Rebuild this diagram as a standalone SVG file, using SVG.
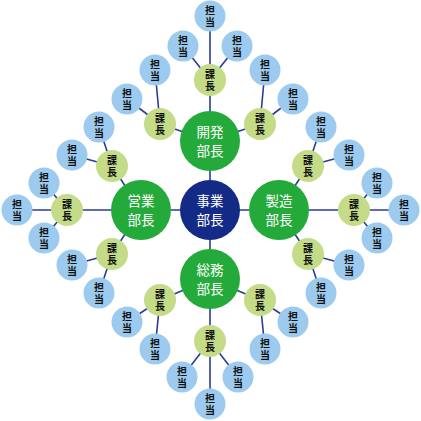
<svg xmlns="http://www.w3.org/2000/svg" width="421" height="421" viewBox="0 0 421 421">
<style>
.ln{stroke:#2b3d97;stroke-width:1.6;fill:none}
.top{fill:#142a87}
.dep{fill:#24aa3a}
.ka{fill:#c4dc88}
.tan{fill:#9ccbef}
.tw{font-family:"Noto Sans CJK JP","Noto Sans CJK SC",sans-serif;font-size:13.5px;fill:#fff;text-anchor:middle}
.tb{font-family:"Noto Sans CJK JP","Noto Sans CJK SC",sans-serif;font-size:10px;fill:#111;text-anchor:middle;font-weight:bold}
</style>
<defs>
<g id="tantou"><circle r="15.5" class="tan"/><text class="tb" y="-2.5">担</text><text class="tb" y="10">当</text></g>
<g id="kachou"><circle r="16" class="ka"/><text class="tb" y="-2.5">課</text><text class="tb" y="10">長</text></g>
</defs>
<g id="connectors">
<path class="ln" d="M210 210L210 141M210 210L279 210M210 210L210 279M210 210L141 210"/>
<path class="ln" d="M210 141L210 80M210 141L160 124M210 141L260 124M210 80L210 16M210 80L183 46M210 80L237 46M160 124L155 70M160 124L127 99M260 124L265 70M260 124L293 99"/>
<path class="ln" d="M210 279L210 341M210 279L160 300M210 279L260 300M210 341L210 404M210 341L182 377M210 341L238 377M160 300L127 322M160 300L155 349M260 300L293 322M260 300L265 349"/>
<path class="ln" d="M279 210L354 210M279 210L308 166M279 210L308 254M354 210L404 210M354 210L377 183M354 210L377 238M308 166L321 127M308 166L349 155M308 254L349 265M308 254L321 293"/>
<path class="ln" d="M141 210L67 210M141 210L112 166M141 210L112 254M67 210L17 210M67 210L44 183M67 210L44 238M112 166L99 127M112 166L72 155M112 254L72 265M112 254L99 293"/>
</g>
<g id="jigyo"><circle cx="210" cy="210" r="30" class="top"/><text class="tw" x="210" y="205.5">事業</text><text class="tw" x="210" y="225">部長</text></g>
<g id="kaihatsu"><circle cx="210" cy="141" r="30" class="dep"/><text class="tw" x="210" y="136.5">開発</text><text class="tw" x="210" y="156">部長</text></g>
<g id="seizo"><circle cx="279" cy="210" r="30" class="dep"/><text class="tw" x="279" y="205.5">製造</text><text class="tw" x="279" y="225">部長</text></g>
<g id="somu"><circle cx="210" cy="279" r="30" class="dep"/><text class="tw" x="210" y="274.5">総務</text><text class="tw" x="210" y="294">部長</text></g>
<g id="eigyo"><circle cx="141" cy="210" r="30" class="dep"/><text class="tw" x="141" y="205.5">営業</text><text class="tw" x="141" y="225">部長</text></g>
<g id="k1"><use href="#kachou" x="210" y="80"/></g>
<g id="k2"><use href="#kachou" x="160" y="124"/></g>
<g id="k3"><use href="#kachou" x="260" y="124"/></g>
<g id="k4"><use href="#kachou" x="210" y="341"/></g>
<g id="k5"><use href="#kachou" x="160" y="300"/></g>
<g id="k6"><use href="#kachou" x="260" y="300"/></g>
<g id="k7"><use href="#kachou" x="354" y="210"/></g>
<g id="k8"><use href="#kachou" x="308" y="166"/></g>
<g id="k9"><use href="#kachou" x="308" y="254"/></g>
<g id="k10"><use href="#kachou" x="67" y="210"/></g>
<g id="k11"><use href="#kachou" x="112" y="166"/></g>
<g id="k12"><use href="#kachou" x="112" y="254"/></g>
<g id="t1"><use href="#tantou" x="210" y="16"/></g>
<g id="t2"><use href="#tantou" x="183" y="46"/></g>
<g id="t3"><use href="#tantou" x="237" y="46"/></g>
<g id="t4"><use href="#tantou" x="155" y="70"/></g>
<g id="t5"><use href="#tantou" x="127" y="99"/></g>
<g id="t6"><use href="#tantou" x="265" y="70"/></g>
<g id="t7"><use href="#tantou" x="293" y="99"/></g>
<g id="t8"><use href="#tantou" x="210" y="404"/></g>
<g id="t9"><use href="#tantou" x="182" y="377"/></g>
<g id="t10"><use href="#tantou" x="238" y="377"/></g>
<g id="t11"><use href="#tantou" x="127" y="322"/></g>
<g id="t12"><use href="#tantou" x="155" y="349"/></g>
<g id="t13"><use href="#tantou" x="293" y="322"/></g>
<g id="t14"><use href="#tantou" x="265" y="349"/></g>
<g id="t15"><use href="#tantou" x="404" y="210"/></g>
<g id="t16"><use href="#tantou" x="377" y="183"/></g>
<g id="t17"><use href="#tantou" x="377" y="238"/></g>
<g id="t18"><use href="#tantou" x="321" y="127"/></g>
<g id="t19"><use href="#tantou" x="349" y="155"/></g>
<g id="t20"><use href="#tantou" x="349" y="265"/></g>
<g id="t21"><use href="#tantou" x="321" y="293"/></g>
<g id="t22"><use href="#tantou" x="17" y="210"/></g>
<g id="t23"><use href="#tantou" x="44" y="183"/></g>
<g id="t24"><use href="#tantou" x="44" y="238"/></g>
<g id="t25"><use href="#tantou" x="99" y="127"/></g>
<g id="t26"><use href="#tantou" x="72" y="155"/></g>
<g id="t27"><use href="#tantou" x="72" y="265"/></g>
<g id="t28"><use href="#tantou" x="99" y="293"/></g>
</svg>
